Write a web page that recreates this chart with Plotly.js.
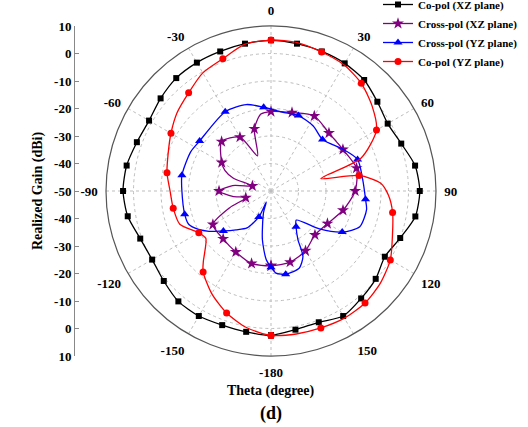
<!DOCTYPE html>
<html>
<head>
<meta charset="utf-8">
<script src="https://cdn.plot.ly/plotly-3.0.1.min.js"></script>
<style>html,body{margin:0;padding:0;background:#fff;}#chart{width:528px;height:427px;}</style>
</head>
<body>
<div id="chart"></div>
<script>
// ---- Data (theta in degrees, gain in dBi) ----
const thetaCoXZ = [-180,-170,-160,-150,-140,-130,-120,-110,-100,-90,-80,-70,-60,-50,-40,-30,-20,-10,0,10,20,30,40,50,60,70,80,90,100,110,120,130,140,150,160,170,180];
const gainCoXZ  = [2.5,2.0,1.9,2.5,2.4,0.9,-0.1,0.6,2.9,3.8,3.3,1.9,1.2,2.4,3.6,3.9,4.0,4.4,4.8,4.4,4.0,3.6,2.7,0.5,-1.0,0.4,3.2,4.1,3.3,0.0,-2.2,-0.3,1.0,2.5,0.8,1.2,2.5];

const thetaCrossXZ = [-180,-165,-150,-135,-120,-112,-105,-98,-90,-82,-75,-71,-66,-60,-45,-30,-21,-15,-7.5,0,15,30,45,60,75,90,105,120,135,150,165,180];
const gainCrossXZ  = [-22.8,-22.7,-24.4,-25.4,-25.6,-33.8,-40.5,-35.9,-31.1,-35.9,-43,-35.4,-31.7,-29.3,-24.6,-27.4,-36.3,-26.6,-21.8,-21.1,-20.5,-18.5,-20.2,-19.8,-17.8,-19.4,-22.9,-26.3,-27.4,-24.9,-23.2,-22.8];

const thetaCrossYZ = [-180,-176,-170,-161,-157,-155,-147,-138,-130,-123,-118,-112,-105,-90,-80,-64,-55,-30,-16,-5,8,20,33,45,60,70,83,95,101,112,120,128,139,145,151,154,160,170,176.5,180];
const gainCrossYZ  = [-22.3,-25,-32,-41.6,-45.6,-39.6,-34,-31,-27.4,-23.1,-20.2,-17.7,-17.5,-17.6,-17.1,-17.5,-18.3,-16.7,-17.3,-19.4,-21,-20.8,-21.8,-23.5,-19.7,-16.5,-16.4,-15.5,-14.6,-15.2,-20.1,-27.6,-36,-34.1,-29.8,-23.5,-20.1,-19.3,-20.1,-22.3];

const thetaCoYZ = [-180,-170,-160,-150,-140,-136,-133,-126,-120,-110,-100,-90,-80,-70,-60,-50,-40,-30,-20,-10,0,10,20,30,40,50,60,70,76,80,86,92,100,110,120,130,140,150,160,170,180];
const gainCoYZ  = [2.5,0.5,-2.8,-6.9,-11.6,-14.6,-17,-20.7,-19.7,-14.7,-13.9,-13.3,-11.6,-10.2,-8,-5.5,-3.4,-0.4,1.2,4.2,4.9,4.8,3.8,3.0,1.1,-2.0,-5.7,-15.2,-31.3,-17.5,-10,-7.3,-5.1,-3.0,0.1,2.0,3.2,3.4,3.0,2.8,2.5];

const seriesNames = ['Co-pol (XZ plane)','Cross-pol (XZ plane)','Cross-pol (YZ plane)','Co-pol (YZ plane)'];

const angleTickVals = [0,30,60,90,120,150,180,210,240,270,300,330];
const angleTickText = ['0','30','60','90','120','150','-180','-150','-120','-90','-60','-30'];

const gainAxisVals = [60,50,40,30,20,10,0,-10,-20,-30,-40,-50,-60];
const gainAxisText = ['10','0','-10','-20','-30','-40','-50','-40','-30','-20','-10','0','10'];

// ---- Styles ----
const boldSerif = {family: 'Liberation Serif, Times New Roman, serif', weight: 'bold', color: '#000'};
const styles = [
  {color: '#000000', symbol: 'square', size: 6, step: 10},
  {color: '#800080', symbol: 'star', size: 9, step: 15},
  {color: '#0000ff', symbol: 'triangle-up', size: 8, step: 25},
  {color: '#ff0000', symbol: 'circle', size: 7, step: 20}
];
const thetas = [thetaCoXZ, thetaCrossXZ, thetaCrossYZ, thetaCoYZ];
const gains = [gainCoXZ, gainCrossXZ, gainCrossYZ, gainCoYZ];

const traces = [];
for (let i = 0; i < 4; i++) {
  const s = styles[i];
  // markers only at regular angular steps; other points carry an invisible marker
  const mColors = thetas[i].map(t => (((t + 180) % s.step) === 0 ? s.color : 'rgba(0,0,0,0)'));
  traces.push({
    type: 'scatterpolar', mode: 'lines+markers', theta: thetas[i], r: gains[i], name: seriesNames[i],
    line: {color: s.color, width: 1.3, shape: 'spline', smoothing: 0.7},
    marker: {color: mColors, symbol: s.symbol, size: s.size, line: {width: 0}},
    hoverinfo: 'skip'
  });
}
// empty cartesian trace to host the left gain axis
traces.push({type: 'scatter', x: [], y: [], xaxis: 'x', yaxis: 'y', showlegend: false, hoverinfo: 'skip'});

const W = 528, H = 427;
const cx = 271, cy = 191, R = 165;
const domX = [(cx - R) / W, (cx + R) / W];
const domY = [1 - (cy + R) / H, 1 - (cy - R) / H];

const layout = {
  width: W, height: H,
  margin: {l: 0, r: 0, t: 0, b: 0, autoexpand: false},
  paper_bgcolor: '#fff', plot_bgcolor: 'rgba(0,0,0,0)',
  font: boldSerif,
  showlegend: true,
  legend: {x: 378 / W, y: 1 + 10 / H, xanchor: 'left', yanchor: 'top', bgcolor: 'rgba(0,0,0,0)',
           font: Object.assign({}, boldSerif, {size: 11}), tracegroupgap: 0, itemwidth: 30, borderwidth: 0},
  polar: {
    domain: {x: domX, y: domY},
    bgcolor: 'rgba(0,0,0,0)',
    radialaxis: {range: [-50, 10], tickvals: [-40,-30,-20,-10,0], showticklabels: false, ticks: '',
                 showline: false, gridcolor: '#bdbdbd', griddash: 'dot', gridwidth: 1},
    angularaxis: {rotation: 90, direction: 'clockwise', tickmode: 'array', tickvals: angleTickVals,
                  ticktext: angleTickText, ticks: 'outside', ticklen: 5, tickcolor: 'rgba(0,0,0,0)',
                  linecolor: '#555', linewidth: 1.2, showline: true,
                  gridcolor: '#bdbdbd', griddash: 'dot', gridwidth: 1,
                  tickfont: Object.assign({}, boldSerif, {size: 13})}
  },
  xaxis: {domain: [75 / W, 85 / W], visible: false, range: [0, 1], fixedrange: true},
  yaxis: {domain: domY, anchor: 'x', range: [-60, 60], tickmode: 'array', tickvals: gainAxisVals,
          ticktext: gainAxisText, showline: true, linecolor: '#888', linewidth: 1, ticks: 'inside',
          ticklen: 4, tickcolor: '#888', showgrid: false, zeroline: false,
          tickfont: Object.assign({}, boldSerif, {size: 13}),
          title: {text: 'Realized Gain (dBi)', font: Object.assign({}, boldSerif, {size: 14}), standoff: 8}},
  annotations: [
    {text: 'Theta (degree)', x: cx / W, y: 1 - 391 / H, xref: 'paper', yref: 'paper', showarrow: false,
     xanchor: 'center', yanchor: 'middle', font: Object.assign({}, boldSerif, {size: 14})},
    {text: '(d)', x: cx / W, y: 1 - 413 / H, xref: 'paper', yref: 'paper', showarrow: false,
     xanchor: 'center', yanchor: 'middle', font: Object.assign({}, boldSerif, {size: 18})}
  ]
};

Plotly.newPlot('chart', traces, layout, {staticPlot: true, displayModeBar: false});
</script>
</body>
</html>
